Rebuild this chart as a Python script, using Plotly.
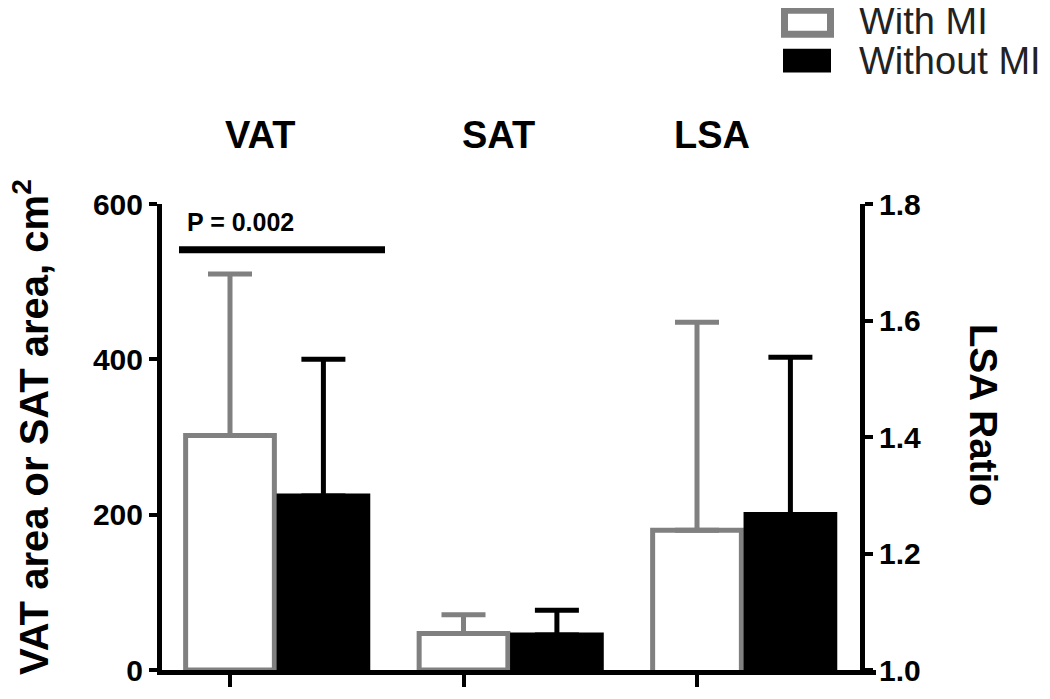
import plotly.graph_objects as go

# ---------------- data ----------------
categories = ["VAT", "SAT", "LSA"]
series_names = ["With MI", "Without MI"]
# area values (cm^2) for VAT, SAT on the left axis
with_mi_area = [302, 47]
with_mi_area_upper = [510, 71]
without_mi_area = [224, 45]
without_mi_area_upper = [400, 77]
# LSA ratio on the right axis
with_mi_lsa = [1.24]
with_mi_lsa_upper = [1.597]
without_mi_lsa = [1.267]
without_mi_lsa_upper = [1.537]
left_ticks = [0, 200, 400, 600]
right_ticks = [1.0, 1.2, 1.4, 1.6, 1.8]
p_text = "P = 0.002"
sig_level = 541

GRAY = "#808080"
BLACK = "#000000"
FONT = "Arial"

# page body has an 8px margin: the figure is drawn at (8, 8)
OFF = 8
W, H = 1050 - OFF, 699 - OFF
# plot-area frame in reference (window) pixels
L, R, T, B = 162, 860, 204, 672


def px_x(p):
    return (p - L) / (R - L)


def px_y(p):
    return (B - p) / (B - T)


PX_PER_UNIT = 233.5
TICK0_PX = 230
bar_w = 0.38
offset = 0.4

fig = go.Figure()

# With MI on left axis (VAT, SAT)
fig.add_trace(go.Bar(
    x=[0, 1], y=with_mi_area, width=bar_w, name=series_names[0],
    marker=dict(color="white", line=dict(color=GRAY, width=5)),
    error_y=dict(type="data", symmetric=False,
                 array=[u - v for u, v in zip(with_mi_area_upper, with_mi_area)],
                 arrayminus=[0, 0], color=GRAY, thickness=5, width=22),
    showlegend=False, yaxis="y"))
fig.add_trace(go.Bar(
    x=[0 + offset, 1 + offset], y=without_mi_area, width=bar_w, name=series_names[1],
    marker=dict(color=BLACK, line=dict(color=BLACK, width=5)),
    error_y=dict(type="data", symmetric=False,
                 array=[u - v for u, v in zip(without_mi_area_upper, without_mi_area)],
                 arrayminus=[0, 0], color=BLACK, thickness=5, width=22),
    showlegend=False, yaxis="y"))

# LSA on right axis
fig.add_trace(go.Bar(
    x=[2], y=with_mi_lsa, width=bar_w, name=series_names[0],
    marker=dict(color="white", line=dict(color=GRAY, width=5)),
    error_y=dict(type="data", symmetric=False,
                 array=[u - v for u, v in zip(with_mi_lsa_upper, with_mi_lsa)],
                 arrayminus=[0], color=GRAY, thickness=5, width=22),
    showlegend=False, yaxis="y2"))
fig.add_trace(go.Bar(
    x=[2 + offset], y=without_mi_lsa, width=bar_w, name=series_names[1],
    marker=dict(color=BLACK, line=dict(color=BLACK, width=5)),
    error_y=dict(type="data", symmetric=False,
                 array=[u - v for u, v in zip(without_mi_lsa_upper, without_mi_lsa)],
                 arrayminus=[0], color=BLACK, thickness=5, width=22),
    showlegend=False, yaxis="y2"))

x_lo = (L - TICK0_PX) / PX_PER_UNIT
x_hi = (R - TICK0_PX) / PX_PER_UNIT


def dx(p):
    return (p - TICK0_PX) / PX_PER_UNIT


fig.update_layout(
    width=W, height=H,
    margin=dict(l=L - OFF, r=1050 - R, t=T - OFF, b=699 - B, pad=0),
    paper_bgcolor="white", plot_bgcolor="white",
    barmode="overlay",
    font=dict(family=FONT, color="black"),
    xaxis=dict(range=[x_lo, x_hi], tickvals=[0, 1, 2], showticklabels=False,
               ticks="outside", ticklen=12, tickwidth=4, tickcolor="black",
               showline=True, linewidth=5, linecolor="black",
               showgrid=False, zeroline=False, fixedrange=True),
    yaxis=dict(range=[0, 600], tickvals=left_ticks,
               ticks="outside", ticklen=8, tickwidth=4, tickcolor="black",
               showline=True, linewidth=5, linecolor="black",
               showgrid=False, zeroline=False,
               tickfont=dict(family=FONT, size=30, color="black", weight="bold")),
    yaxis2=dict(range=[1.0, 1.8], tickvals=right_ticks,
                ticktext=[f"{v:.1f}" for v in right_ticks],
                overlaying="y", side="right",
                ticks="outside", ticklen=8, tickwidth=4, tickcolor="black",
                showline=True, linewidth=5, linecolor="black",
                showgrid=False, zeroline=False,
                tickfont=dict(family=FONT, size=30, color="black", weight="bold")),
)

# category labels above the plot
label_centers_px = [260, 498, 712]
for c, cx in zip(categories, label_centers_px):
    fig.add_annotation(x=dx(cx), y=px_y(135), xref="x", yref="paper",
                       text=f"<b>{c}</b>", showarrow=False,
                       font=dict(family=FONT, size=38, color="black"),
                       xanchor="center", yanchor="middle")

# axis titles
fig.add_annotation(x=px_x(31), y=px_y(428), xref="paper", yref="paper",
                   text="<b>VAT area or SAT area, cm<sup>2</sup></b>", textangle=-90,
                   showarrow=False, font=dict(family=FONT, size=40, color="black"),
                   xanchor="center", yanchor="middle")
fig.add_annotation(x=px_x(984), y=px_y(416), xref="paper", yref="paper",
                   text="<b>LSA Ratio</b>", textangle=90,
                   showarrow=False, font=dict(family=FONT, size=38.5, color="black"),
                   xanchor="center", yanchor="middle")

# significance bar
fig.add_shape(type="line", xref="x", yref="y",
              x0=dx(179), x1=dx(385),
              y0=sig_level, y1=sig_level, line=dict(color="black", width=7))
fig.add_annotation(x=dx(240), y=sig_level + 36, xref="x", yref="y",
                   text=f"<b>{p_text}</b>", showarrow=False,
                   font=dict(family=FONT, size=25, color="black"),
                   xanchor="center", yanchor="middle")

# bottom axis extension past the right axis
fig.add_shape(type="line", xref="paper", yref="paper",
              x0=1, x1=px_x(876), y0=px_y(B + 2.5), y1=px_y(B + 2.5),
              line=dict(color="black", width=5))

# manual legend
fig.add_shape(type="rect", xref="paper", yref="paper",
              x0=px_x(784.5), x1=px_x(830.5), y0=px_y(9.5), y1=px_y(33.5),
              line=dict(color=GRAY, width=7), fillcolor="white")
fig.add_shape(type="rect", xref="paper", yref="paper",
              x0=px_x(783), x1=px_x(831), y0=px_y(48), y1=px_y(72),
              line=dict(color=BLACK, width=0), fillcolor=BLACK)
fig.add_annotation(x=px_x(857), y=px_y(20), xref="paper", yref="paper",
                   text=series_names[0], showarrow=False,
                   font=dict(family=FONT, size=38, color="#222222"),
                   xanchor="left", yanchor="middle")
fig.add_annotation(x=px_x(857), y=px_y(60), xref="paper", yref="paper",
                   text=series_names[1], showarrow=False,
                   font=dict(family=FONT, size=38, color="#222222"),
                   xanchor="left", yanchor="middle")

fig.write_html("out.html")
